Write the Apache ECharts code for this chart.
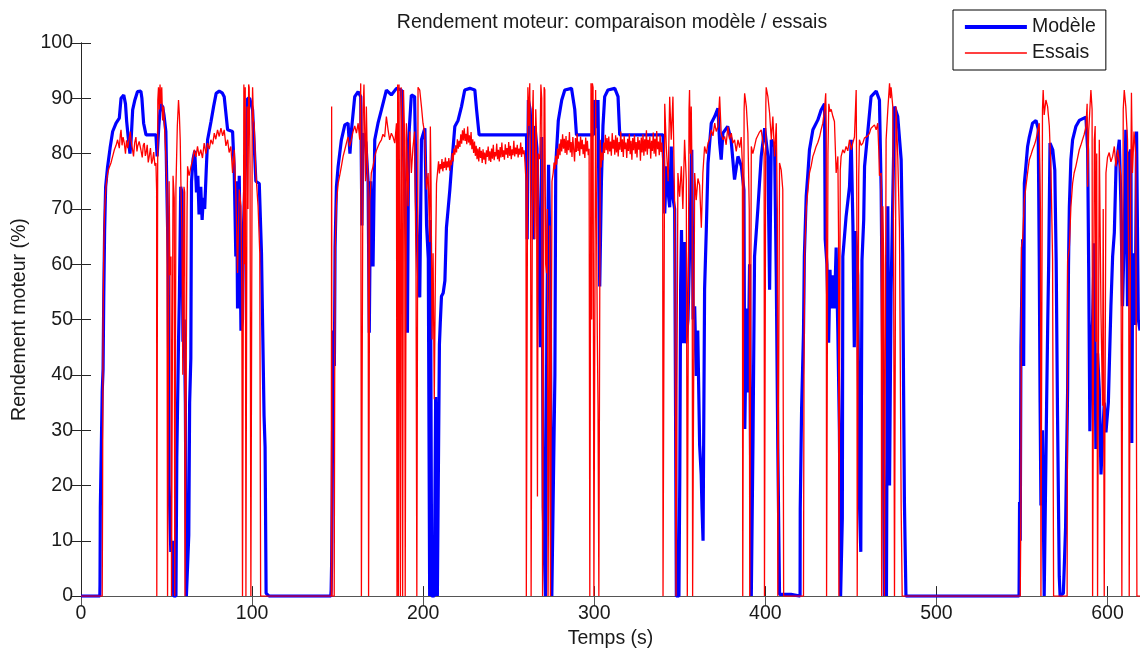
<!DOCTYPE html>
<html>
<head>
<meta charset="utf-8">
<script src="https://cdn.jsdelivr.net/npm/echarts@6/dist/echarts.min.js"></script>
<style>
html,body{margin:0;padding:0;background:#fff;}
#c{width:1140px;height:654px;}
</style>
</head>
<body>
<div id="c"></div>
<script>
// Modèle (blue) : [time (s), efficiency (%)]
var modele1 = [[0,0],[11.0,0],[11.1,2],[11.3,16],[12.3,16],[12.4,37],[12.9,41],[13.3,54],[13.8,66],[14.4,74],[15.5,77.5],[17,81],[18.5,84],[20.5,85.5],[22.4,86.4],[23.4,90],[25,90.6],[26,89],[26.7,85.8],[27.6,83],[28.6,80],[29.2,81.9],[30.2,87.9],[31.5,89.7],[33,91.2],[35,91.3],[35.6,90],[36.6,85.5],[38,83.4],[43.8,83.4],[44.5,79.5],[45.5,85],[46.5,89],[47.7,88.5],[48.5,87],[49.6,84],[50.2,73.5],[51,60],[51.5,20],[52.5,8],[53.5,10],[54.2,0],[55.5,0],[56,25],[57,46],[57.5,54],[58.3,74],[59,73],[59.6,46],[60.3,50],[61,35],[61.6,0],[62.5,0],[63,11],[63.5,35],[64.2,43],[64.6,75],[65.5,79],[66.5,80.5],[67.5,73],[68.3,76],[69,69],[70,74],[70.8,68],[71.5,72],[72.3,70],[73.2,77],[74,82.5],[76,85.8],[77.5,88.5],[79,90.9],[80.8,91.3],[82.5,91],[83.7,90.3],[85.7,84.3],[88.6,84],[89.5,77.7],[90.5,61.4],[91,75],[91.5,52],[92.5,76],[93.5,48],[94.4,50],[95,67],[96.5,82],[97.4,90],[98.6,90],[100.3,87.9],[102.2,75],[104.2,74.6],[105.5,62],[106.5,62],[107,32.6],[107.6,27],[108.2,0.5],[110,0]];
var modele2 = [[146,0],[146.2,1],[146.5,6],[146.8,17],[147.2,38],[147.6,48],[148.1,41.6],[148.5,63],[149.3,74],[150.3,77.7],[152.2,82.5],[154.2,85.2],[156.1,85.5],[157.2,80],[158.2,84.6],[160,90.3],[162,91.2],[163.5,90.3],[164.2,67],[164.8,83.7],[166.5,82],[167.8,75],[168.5,47.6],[169.3,75],[170.7,59.6],[171.7,82.5],[173.6,85.5],[175.6,87.9],[178.5,91.5],[181.4,90.6],[184.4,91.8],[187.3,91.5],[188.3,82.5],[190.2,63],[190.8,47.6],[191.5,82.5],[193.1,90.6],[195,90.3],[196,71.3],[197,59.6],[198,54],[199,82.5],[201,84.6],[202,67],[203,61],[203.6,61],[203.8,0],[204.2,68],[205,0],[206.5,0],[207.3,36],[207.8,25],[208.3,0],[209,0],[209.5,45.5],[210,49.4],[210.7,54.2],[211.7,54.8],[212.7,57],[213.6,66.6],[214.6,70],[215.6,73.5],[216.6,77.7],[218.5,84.9],[220.4,86],[222.4,88.5],[224.3,91.5],[227.3,91.8],[230.2,91.5],[231.2,88],[232.7,83.4],[260.4,83.4],[260.8,64.5],[261.5,89.7],[262.5,88],[263.5,82],[264.5,64.5],[265.3,85],[266.5,81],[267.5,64.5],[268.5,45],[269.3,83],[270.2,16],[270.8,8],[271.5,0],[272.3,50],[273.3,78],[274.2,60],[275.2,0],[276.3,0],[277,40],[277.5,78],[279,86],[281,89.7],[282.8,91.5],[286.7,91.8],[288.6,88],[289.6,83.4],[297.4,83.4],[299.5,83.4],[300.3,89.7],[301.3,84.6],[302.2,89.7],[303.2,56],[304.2,75],[305.1,85],[306.1,90.3],[308,91.5],[312,91.8],[313.9,90.3],[314.9,83.4],[340.2,83.4]];
var modele3 = [[341.2,69.2],[342.2,77.7],[343.2,73],[344.1,70.3],[345,81.3],[346,72],[347,70],[348,0],[349.5,0],[350,21.7],[350.5,56],[351,66.2],[351.8,45.7],[352.8,64],[353.5,45.7],[354.8,50],[356,66],[357,80.7],[357.8,50],[358.7,52.4],[359.6,39.8],[360.5,48],[361.6,27.3],[362.5,22],[363,15.8],[363.6,10],[364.5,55.5],[365.5,66.2],[366.5,78.3],[368.4,85.5],[370.4,86.7],[372.3,88.2],[373.3,81.9],[374.2,78.9],[375.2,83.7],[378,84.9],[380,82.5],[382,75.3],[384,79.5],[386,77.7],[387.5,73.4],[388,30.2],[389,52],[389.8,36.8],[390.8,60],[391.8,0],[392.8,28.4],[393.7,61.4],[395.7,70.3],[397.6,79.5],[399.6,84.6],[401.5,79.5],[402.5,55.4],[403.5,82.5],[405.4,81.3],[406.4,57.8],[407.3,26.6],[408.3,0.3],[415,0.3],[415.5,0]];
var modele4 = [[420.3,0],[420.4,15.7],[421.2,33.8],[422.3,47.6],[422.8,61.4],[423.9,72.3],[424.9,76.5],[425.8,80.7],[427.8,84.3],[430.7,86.1],[432.6,87.9],[434.6,89],[435,64.5],[436,60],[437,45.8],[437.8,59],[438.5,52],[439.3,58],[440.4,52],[441.4,63],[442.4,47.6],[443.3,30],[444,0],[444.6,0],[445,14],[445.3,61.4],[447.2,68.6],[449.2,74],[450.2,82.5],[451.2,67],[452,45],[452.8,66],[454,58],[455,17],[455.8,8],[456.5,60.7],[457.5,68],[458,77.7],[460,84.3],[461.8,90.3],[464.8,91.3],[466.7,89.7],[467.7,73.5],[468.7,38.6],[469.6,0],[470.3,20],[470.8,0],[471.6,70.5],[472.6,20],[473.5,55],[475.5,88.5],[477.4,86.7],[479.4,78.9],[480.3,62],[480.8,38],[481.3,17],[482.2,0]];
var modele5 = [[548.3,0],[548.4,5],[548.6,17],[549,10],[549.4,45],[550.4,64.5],[551,41.6],[551.4,74.6],[552.3,77.7],[553.3,81.3],[554.3,83],[556.2,85.5],[558.2,86],[559.5,84.5],[560.1,61.4],[560.6,35],[561.1,16.4],[562,30],[563,0],[563.8,0],[564.4,34.4],[565.1,50],[565.6,59.6],[566.4,81.9],[568,80.7],[569.2,77],[570,60.7],[570.8,32.6],[571.8,3.6],[572.3,0],[574.2,0.5],[574.7,5],[575.5,12.4],[576.7,37.4],[577.2,59.6],[577.7,70.3],[578.6,78.9],[579.6,82.5],[581.5,84.9],[583.5,86],[587.4,86.6],[588.4,80.7],[589,59.6],[589.7,29.8],[590.5,45],[591.3,50],[592.3,63.8],[593.2,26.6],[594.2,43.9],[595.2,37.4],[596.2,22],[597.1,28.4],[598.1,35],[599.1,29.6],[600.5,35],[602,52.4],[603,61.4],[604,65.7],[605,77.7],[606.9,82.5],[607.8,71.3],[608.8,52.4],[609.8,65.7],[610.7,84.3],[611.7,52.4],[612.7,80],[613.7,80.7],[614.2,27.7],[614.6,52.4],[615.5,62],[616.2,49],[617,84],[618,50],[619,48]];

// Essais (red) : [time (s), efficiency (%)]
var essais1 = [[0,0],[12.4,0],[12.6,16],[12.9,50],[13.3,63],[13.8,70],[14.6,74],[15.6,76.5],[16.5,77.5],[17.5,78.3],[18.5,79.5],[19.5,80.7],[20.5,81.5],[21.4,82.5],[22.4,81],[23,83.5],[23.4,84.3],[24,81.5],[24.6,83],[25.3,81.9],[26,80],[26.6,82.4],[27.3,81],[28.2,81.3],[28.8,84],[29.2,82.5],[30,81],[30.7,79.5],[31.4,82],[32.1,83],[32.7,80.4],[33.1,81.3],[34,82.2],[35,80.7],[35.8,79.3],[36.4,81.5],[37,81.9],[37.6,79.6],[38,80],[38.7,81.6],[39.3,78.4],[39.9,79.5],[40.6,81],[41.3,78.2],[41.9,78.9],[42.5,80.3],[43.2,77.8],[43.8,78.3],[44.2,73.5],[44.3,0],[44.7,0],[44.9,89.7],[45.3,92],[45.8,88],[46.2,92.5],[46.7,89],[47.2,92],[47.7,86],[48.3,88.5],[48.7,85.5],[49.6,79.5],[50.2,73.5],[50.6,0],[51.2,0],[51.5,75],[52,58],[52.6,61.4],[52.9,0],[53.4,0],[53.8,76],[54.5,72],[54.8,0],[55.3,0],[55.5,74],[56.3,85],[57,89.7],[57.5,87],[58,82.5],[58.4,74.6],[59,66],[59.5,40],[60.2,74],[60.6,73],[60.8,0],[61.6,0],[62,70],[62.3,77.7],[63.2,76],[64.3,77.7],[65.3,79],[66.2,80.7],[67.2,79.4],[68.1,81.3],[69,79.6],[70,80.7],[71,79.2],[72,81.9],[73,80],[74,81.9],[75,80.8],[75.9,82.5],[77,81.7],[77.9,83.7],[78.8,82.6],[79.8,84.3],[80.8,83.1],[81.8,84.6],[82.8,83.2],[83.7,84.3],[84.7,81.4],[85.7,82.5],[86.6,80.2],[87.6,81.3],[88.6,76.5],[89.6,80.7],[90.5,72.9],[91.5,58.4],[92.5,73.5],[93.5,70.5],[94,55],[94.4,0],[94.9,0],[95.2,92.5],[95.7,60],[96,92],[96.4,0],[96.8,0],[97.1,88.5],[97.6,70],[98,92.5],[98.3,92],[98.8,78],[99.3,0],[99.7,0],[100.1,88],[100.3,92],[100.8,86],[101.2,85.5],[102.2,76.5],[103.5,70.5],[104.5,62],[105,0]];
var essais2 = [[146.3,0],[146.5,88.5],[146.7,0],[148,0],[148.3,40],[148.6,63],[149.3,71],[150.3,74.6],[151.2,76],[152.2,77.7],[153.2,79.5],[154.2,80.7],[155.2,82],[156.1,83],[157,81.3],[158,82.5],[159,84],[160,85],[161,83.7],[162,85.5],[162.9,82.5],[163.5,92.7],[163.9,0],[164.5,0],[164.9,88],[165.4,92.5],[165.9,92.7],[166.3,75],[166.8,88.5],[167.3,80],[167.8,74],[168.1,0],[168.5,0],[168.8,71.3],[169.7,76.5],[170.7,77.7],[171.7,79.5],[172.6,80.5],[173.6,81.3],[174.6,82],[175.6,82.5],[176.5,83.5],[177.5,83],[178.5,86.7],[179.5,84.3],[180.4,82.5],[181.4,83.7],[182.4,83],[183.4,81.9],[184.4,85.5],[184.7,0],[185.1,92.5],[185.5,0],[185.9,92.5],[186.3,60],[186.7,0],[187.1,92],[187.5,84],[188,0],[188.5,91.5],[189.2,82.5],[189.5,0],[190.2,85.5],[191.2,70.5],[192.2,84],[193.1,76.5],[194,81],[195,84],[195.8,60],[196.3,0],[196.8,0],[197,92],[198,91.5],[199,88.5],[199.9,85.5],[200.9,83.7],[201.9,73.5],[202.9,76.5],[203.8,64],[204.2,84.9],[204.6,75],[205.2,46.4],[205.8,62],[206.5,35.6],[207.2,60],[207.8,74.6],
[208.5,77.0],[209,78.6],[209.5,76.4],[210,78.1],[210.5,77.2],[211,79.0],[211.5,76.8],[212,78.5],[212.5,77.4],[213,79.3],[213.5,77.0],[214,78.6],[214.5,77.5],[215,79.2],[215.5,76.9],[216,78.8],[216.5,77.9],[217,80.1],[217.5,78.6],[218,80.9],[218.5,79.8],[219,81.5],[219.5,80.2],[220,82.6],[220.5,80.9],[221,82.3],[221.5,81.2],[222,83.5],[222.5,81.8],[223,84.2],[223.5,82.4],[224,84.6],[224.5,82.3],[225,83.6],[225.5,81.7],[226,84.9],[226.5,82.0],[227,83.3],[227.5,81.5],[228,83.9],[228.5,80.8],[229,82.6],[229.5,80.1],[230,82.2],[230.5,79.6],[231,81.4],[231.5,79.0],[232,80.9],[232.5,78.6],[233,81.2],[233.5,79.2],[234,80.5],[234.5,78.3],[235,80.8],[235.5,78.9],[236,80.2],[236.5,78.1],[237,80.6],[237.5,79.4],[238,81.3],[238.5,78.7],[239,80.4],[239.5,78.5],[240,80.9],[240.5,79.1],[241,81.6],[241.5,78.8],[242,80.3],[242.5,79.5],[243,81.8],[243.5,79.0],[244,80.7],[244.5,78.6],[245,81.2],[245.5,79.3],[246,82.0],[246.5,79.4],[247,80.6],[247.5,78.9],[248,81.7],[248.5,79.8],[249,81.0],[249.5,79.2],[250,82.1],[250.5,79.6],[251,81.4],[251.5,79.0],[252,80.8],[252.5,79.7],[253,82.3],[253.5,79.5],[254,81.1],[254.5,79.9],[255,81.6],[255.5,79.3],[256,80.9],[256.5,79.8],[257,82.0],[257.5,79.4],[258,81.2],[258.5,79.9],[259,80.6],[259.5,78.5],
[260.1,75],[260.3,0],[260.8,0],[261.2,92],[261.7,85],[262.3,92.7],[262.8,75],[263.1,0],[263.6,0],[264,88],[264.3,91.5],[264.8,72],[265.3,64.5],[265.8,88],[266.2,84],[266.8,18],[267.3,80],[268.2,79],[268.8,92.5],[269.3,90],[269.8,0],[270.3,0],[270.7,92],[271.1,91.5],[271.6,60],[272.1,58.4],[272.6,70],[273,0],[273.6,0],[274,67],[274.4,0],[274.8,0],[275.3,75],
[276,76.5],[276.5,78.4],[277,77.2],[277.5,79.6],[278,78.0],[278.5,80.9],[279,79.1],[279.5,81.8],[280,79.7],[280.5,82.6],[281,80.4],[281.5,83.5],[282,80.9],[282.5,82.7],[283,80.1],[283.5,83.2],[284,79.8],[284.5,82.4],[285,80.6],[285.5,83.9],[286,80.2],[286.5,82.1],[287,79.4],[287.5,83.0],[288,80.7],[288.5,78.6],[289,82.8],[289.5,80.3],[290,83.6],[290.5,80.5],[291,82.2],[291.5,79.6],[292,83.1],[292.5,80.8],[293,82.5],[293.5,79.9],[294,81.7],[294.5,79.2],[295,82.9],[295.5,80.4],[296,82.3],[296.5,79.7],[297,80.9],
[297.4,0],[297.8,0],[298.1,92.7],[298.5,50],[298.9,92.7],[299.3,92],[299.8,0],[300.4,0],[300.8,91.5],[301.3,91.5],[301.8,47],[302.2,34.4],[302.7,0],[303.2,0],[303.5,82.5],
[304,77.5],[304.5,80.2],[305,78.8],[305.5,82.0],[306,80.1],[306.5,83.4],[307,80.6],[307.5,82.8],[308,79.9],[308.5,83.1],[309,80.4],[309.5,82.2],[310,79.6],[310.5,83.7],[311,80.9],[311.5,82.5],[312,79.8],[312.5,83.3],[313,80.2],[313.5,82.9],[314,79.5],[314.5,82.1],[315,80.7],[315.5,84.0],[316,80.3],[316.5,82.6],[317,79.4],[317.5,83.2],[318,80.8],[318.5,82.0],[319,79.2],[319.5,82.7],[320,80.5],[320.5,83.6],[321,79.9],[321.5,82.3],[322,78.9],[322.5,82.8],[323,80.6],[323.5,83.4],[324,80.0],[324.5,82.1],[325,79.3],[325.5,83.0],[326,80.7],[326.5,82.4],[327,78.7],[327.5,82.9],[328,80.2],[328.5,83.5],[329,79.6],[329.5,82.6],[330,80.4],[330.5,84.2],[331,79.8],[331.5,82.5],[332,80.9],[332.5,83.1],[333,79.1],[333.5,82.3],[334,80.5],[334.5,83.8],[335,80.0],[335.5,82.7],[336,79.5],[336.5,84.1],[337,80.8],[337.5,82.2],[338,79.7],[338.5,83.3],[339,80.3],[339.5,82.0]];
var essais3 = [[340,79],[340.2,0],[340.6,0],[341,70],[341.2,89],[342.2,80.7],[343.2,75],[344.1,90.3],[345,82.5],[346,90.3],[347,70.5],[347.8,0],[348.4,0],[348.9,76.5],[349.9,72.2],[350.9,77.7],[351.8,70],[352.8,82.5],[353.8,75.3],[354.4,0],[355,0],[355.4,88],[355.7,91.5],[356.2,80],[356.7,88.5],[357.2,75],[357.5,0],[358.1,0],[358.7,76.5],[359.6,71.6],[360.6,75.5],[361.6,74.3],[362.6,66.6],[363.5,76.5],[364.5,81.3],[365.5,80],[366.5,81.9],[367.4,82.6],[368.4,84.3],[369.4,83.2],[370.4,85.5],[371.3,84],[372.3,84.9],[373.3,90.3],[374.2,83.7],[375.2,82.5],[376.2,83.1],[377.1,81.6],[378.1,84.9],[379.1,82.6],[380.1,83.7],[381,81.9],[382,82.5],[383,80.4],[384,82.5],[385,81.1],[385.9,83],[386.6,78],[386.8,0],[387.3,0],[387.6,88],[387.9,90.9],[388.9,88.5],[389.8,83.7],[390.6,70],[390.9,0],[391.4,0],[391.8,81.3],[392.7,80],[393.7,81.3],[394.7,82.7],[395.7,83],[396.6,83.9],[397.6,84.3],[398.6,82],[399.3,80],[399.5,0],[400,0],[400.3,89],[400.5,92],[401.5,90.3],[402.5,87.3],[403.5,82.5],[404.4,86.7],[405.4,79.5],[406.4,85.5],[407,70],[407.3,0],[407.9,0],[408.3,78.3],[409.3,77],[410.2,73.5],[410.5,30],[410.7,0]];
var essais4 = [[422.3,0],[422.6,40],[423,62],[424,70.5],[424.9,73.4],[425.8,76.5],[426.8,77.8],[427.8,79.5],[428.7,80.3],[429.7,81.3],[430.7,82],[431.7,83],[432.6,84.3],[433.6,85.5],[434.6,88],[435.3,90.9],[435.6,84],[435.8,0],[436.3,0],[436.6,80],[437.1,89],[437.8,87.6],[438.5,88],[439.5,86.7],[440.4,85.8],[441.4,76.5],[442.4,79.5],[442.8,65],[443,0],[443.5,0],[443.8,77],[444.3,79.5],[445.3,80.7],[446.2,80.1],[447.2,81.3],[448.2,80.5],[449.2,82.5],[450.2,80.7],[451.1,81.9],[452.1,83],[453.1,91.5],[453.5,70],[453.7,0],[454.3,0],[454.6,76],[455,82.5],[456,81.5],[457,81.9],[457.9,82.8],[458.9,82.5],[459.9,83.2],[460.9,83.7],[461.8,84.6],[462.8,84.3],[463.8,85.2],[464.8,84.3],[465.7,85.5],[466.3,80.7],[466.7,76],[467.7,76.5],[468,0],[468.5,0],[468.7,70.5],[469.2,60],[469.6,0],[470.1,0],[470.6,82.5],[471.6,88],[472.6,92.7],[473.1,90],[473.5,92],[474.5,88.5],[475,60],[475.5,0],[476,0],[476.4,88.5],[477.4,79.5],[478.4,66.6],[479.4,16],[480,0]];
var essais5 = [[549,0],[549.4,16],[549.7,63],[550.4,64.5],[551.4,71.6],[552.3,74],[553.3,76.5],[554.3,78.9],[555.3,79.8],[556.2,80.7],[557.2,81.5],[558.2,82.5],[559.1,84],[560.1,85.5],[560.8,70],[561.1,0],[561.6,0],[562,88],[562.4,91.5],[563,87],[564,89.7],[565,88.5],[566,85],[567,76.5],[567.9,61],[568.5,0],[576.4,0],[576.7,60.7],[577.7,63],[578.6,70.3],[579.6,74.6],[580.5,76.5],[581.5,77.7],[582.5,79.2],[583.5,80.7],[584.4,81.5],[585.4,82.5],[586.4,83.5],[587.4,84.9],[588.1,89],[588.4,74],[589,84],[590.3,91.5],[591,88],[591.3,0],[591.8,0],[592.3,82.5],[592.8,85],[593.2,46],[593.7,80],[594.2,0],[594.7,0],[595.2,82.5],[596.2,51],[597.1,34.4],[597.5,70],[598.1,0],[598.6,0],[599.1,76.5],[600,79.3],[601,80.2],[602,78.5],[603,79.5],[604,81.3],[604.9,77.7],[606,80.7],[606.9,80.4],[607.8,76],[608.4,0],[608.9,0],[609.2,88],[609.8,91.5],[610.7,88.5],[611.7,82.5],[612.4,60],[612.7,0],[613.2,0],[613.5,70.5],[614,91],[614.6,76.5],[615.5,84],[616.5,80],[617.2,0],[619,0]];

var xTicks = [0,100,200,300,400,500,600];
var yTicks = [0,10,20,30,40,50,60,70,80,90,100];
var xMax = 619;

var modele = [].concat(modele1, modele2, modele3, modele4, modele5);
var essais = [].concat(essais1, essais2, essais3, essais4, essais5);

var FONT = "'Liberation Sans', Arial, Helvetica, sans-serif";
var chart = echarts.init(document.getElementById('c'), null, {renderer:'canvas'});
var axisLineStyle = {color:'#262626', width:1};
chart.setOption({
  animation:false,
  backgroundColor:'#ffffff',
  textStyle:{fontFamily:FONT},
  title:{
    text:'Rendement moteur: comparaison modèle / essais',
    left:607, textAlign:'center', top:8,
    textStyle:{fontSize:19.5, fontWeight:'normal', color:'#1a1a1a', fontFamily:FONT}
  },
  legend:{
    orient:'vertical', left:953, top:10,
    padding:[7,10,7,10],
    itemWidth:62, itemHeight:20, itemGap:6,
    borderColor:'#000', borderWidth:1, borderRadius:0, backgroundColor:'#fff',
    itemStyle:{opacity:0},
    textStyle:{fontSize:19.5, color:'#1a1a1a', fontFamily:FONT},
    data:[
      {name:'Modèle', itemStyle:{opacity:0}, lineStyle:{width:3.8, color:'#0000ff'}},
      {name:'Essais', itemStyle:{opacity:0}, lineStyle:{width:1.3, color:'#ff0000'}}
    ]
  },
  grid:{left:81, right:0, top:43, bottom:56},
  xAxis:[{
    type:'value', min:0, max:xMax,
    name:'Temps (s)', nameLocation:'middle', nameGap:32,
    nameTextStyle:{fontSize:19.5, color:'#1a1a1a', fontFamily:FONT},
    axisLine:{show:true, lineStyle:axisLineStyle},
    axisTick:{show:true, inside:true, length:10, lineStyle:axisLineStyle, customValues:xTicks},
    axisLabel:{fontSize:19.5, color:'#1a1a1a', margin:8, fontFamily:FONT, customValues:xTicks},
    splitLine:{show:false}
  },{
    type:'value', min:0, max:xMax, position:'top',
    axisLine:{show:true, lineStyle:{color:'#555', width:1}},
    axisTick:{show:true, inside:true, length:10, lineStyle:{color:'#555'}, customValues:xTicks},
    axisLabel:{show:false}, splitLine:{show:false}
  }],
  yAxis:[{
    type:'value', min:0, max:100, interval:10,
    name:'Rendement moteur (%)', nameLocation:'middle', nameGap:50,
    nameTextStyle:{fontSize:19.5, color:'#1a1a1a', fontFamily:FONT},
    axisLine:{show:true, lineStyle:axisLineStyle},
    axisTick:{show:true, inside:true, length:10, lineStyle:axisLineStyle, customValues:yTicks},
    axisLabel:{fontSize:19.5, color:'#1a1a1a', margin:8, fontFamily:FONT, customValues:yTicks},
    splitLine:{show:false}
  },{
    type:'value', min:0, max:100, interval:10, position:'right',
    axisLine:{show:true, lineStyle:axisLineStyle},
    axisTick:{show:true, inside:true, length:10, lineStyle:axisLineStyle},
    axisLabel:{show:false}, splitLine:{show:false}
  }],
  series:[{
    name:'Modèle', type:'line', xAxisIndex:0, yAxisIndex:0,
    symbol:'none', showSymbol:false, sampling:null,
    lineStyle:{color:'#0000ff', width:3.2},
    itemStyle:{color:'#0000ff'},
    data:modele
  },{
    name:'Essais', type:'line', xAxisIndex:0, yAxisIndex:0,
    symbol:'none', showSymbol:false, sampling:null,
    lineStyle:{color:'#ff0000', width:1.3},
    itemStyle:{color:'#ff0000'},
    data:essais
  }]
});
</script>
</body>
</html>
